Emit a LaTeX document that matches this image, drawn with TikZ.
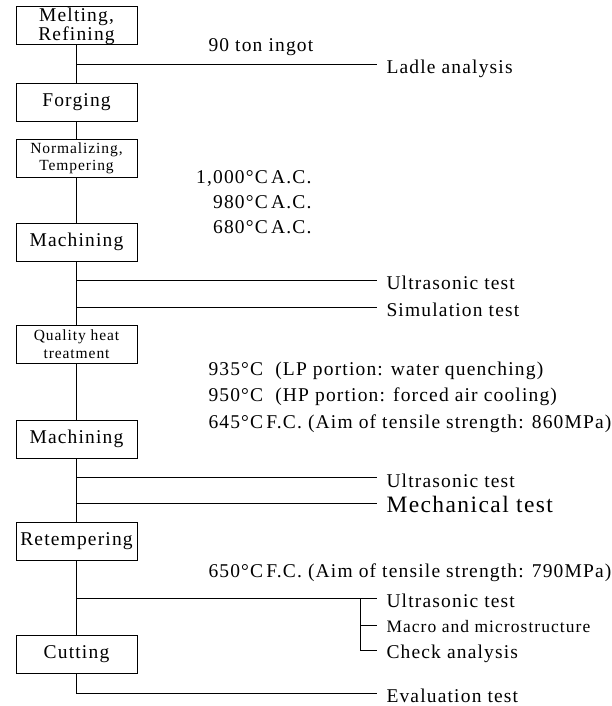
\documentclass[tikz,border=0pt]{standalone}
\usepackage{fontspec}
\setmainfont{Liberation Serif}[LetterSpace=6]

\tikzset{
  stage/.style={draw, minimum width=121pt, minimum height=38pt, inner sep=0pt,
    align=center, font=\fontsize{19.5}{15}\selectfont},
  smallstage/.style={stage, font=\fontsize{15.5}{17.5}\selectfont},
  cond/.style={anchor=base west, inner sep=0pt, font=\fontsize{19.5}{21}\selectfont},
  test/.style={anchor=base west, inner xsep=9pt, inner ysep=0pt,
    font=\fontsize{19.5}{21}\selectfont}
}

\begin{document}
\begin{tikzpicture}[x=1pt, y=-1pt, line width=1pt]
    \useasboundingbox (0,0) rectangle (612,706);

    % Process steps
    \node[stage] (melt) at (76.5,26) {Melting,\\Refining};
    \node[stage] (forge) at (76.5,102.5) {Forging};
    \node[smallstage] (norm) at (76.5,158.5) {Normalizing,\\Tempering};
    \node[stage] (mach1) at (76.5,242) {Machining};
    \node[smallstage] (qht) at (76.5,344) {Quality heat\\treatment};
    \node[stage] (mach2) at (76.5,439) {Machining};
    \node[stage] (retemp) at (76.5,541) {Retempering};
    \node[stage] (cut) at (76.5,654) {Cutting};

    % Branch points on the main line
    \coordinate (b1) at (76.5,65);
    \coordinate (b2) at (76.5,280);
    \coordinate (b3) at (76.5,307);
    \coordinate (b4) at (76.5,477);
    \coordinate (b5) at (76.5,503);
    \coordinate (b6) at (76.5,598);
    \coordinate (b7) at (76.5,693);
    \coordinate (br) at (360,598);
    \coordinate (t2) at (360,625);
    \coordinate (t3) at (360,650);

    % Conditions
    \node[cond] (ingot) at (208,52) {90 ton ingot};
    \node[cond, anchor=base east] (c1) at (312,183) {1,000°C\,A.C.};
    \node[cond, anchor=base east] (c2) at (312,208) {980°C\,A.C.};
    \node[cond, anchor=base east] (c3) at (312,233) {680°C\,A.C.};
    \node[cond] (q1) at (208,375) {935°C\ \ (LP portion: water quenching)};
    \node[cond] (q2) at (208,401) {950°C\ \ (HP portion: forced air cooling)};
    \node[cond] (q3) at (208,428) {645°C\,F.C. (Aim of tensile strength: 860MPa)};
    \node[cond] (r1) at (208,577) {650°C\,F.C. (Aim of tensile strength: 790MPa)};

    % Tests
    \node[test] (ladle) at (377,74) {Ladle analysis};
    \node[test] (ut1) at (377,289) {Ultrasonic test};
    \node[test] (sim) at (377,316) {Simulation test};
    \node[test] (ut2) at (377,487) {Ultrasonic test};
    \node[test, font=\fontsize{23.5}{25}\selectfont] (mech) at (377,512) {Mechanical test};
    \node[test] (ut3) at (377,607) {Ultrasonic test};
    \node[test, font=\fontsize{17.5}{19}\selectfont] (macro) at (377,632) {Macro and microstructure};
    \node[test] (chk) at (377,658) {Check analysis};
    \node[test] (eval) at (377,702) {Evaluation test};

    % Main line
    \draw (melt) -- (forge) -- (norm) -- (mach1) -- (qht) -- (mach2) -- (retemp) -- (cut);
    \draw (cut) -- (b7) -- (b7 -| eval.west);

    % Branches
    \draw (b1) -- (b1 -| ladle.west);
    \draw (b2) -- (b2 -| ut1.west);
    \draw (b3) -- (b3 -| sim.west);
    \draw (b4) -- (b4 -| ut2.west);
    \draw (b5) -- (b5 -| mech.west);
    \draw (b6) -- (b6 -| ut3.west);
    \draw (br) -- (t3) -- (t3 -| chk.west);
    \draw (t2) -- (t2 -| macro.west);
\end{tikzpicture}
\end{document}
